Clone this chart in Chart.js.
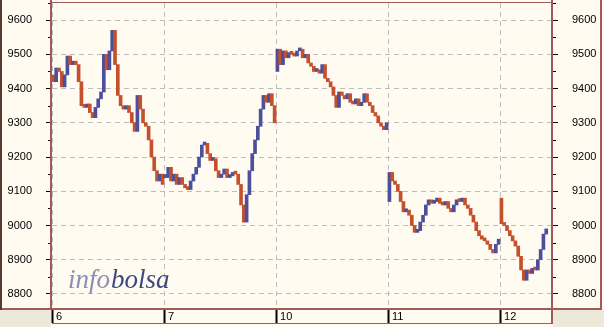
<!DOCTYPE html>
<html><head><meta charset="utf-8">
<script src="https://cdn.jsdelivr.net/npm/chart.js@4"></script>
<style>html,body{margin:0;padding:0;background:#FFFBF0;} canvas{display:block}</style>
</head><body>
<canvas id="c" width="604" height="327"></canvas>
<script>
// ---- data ----
const tickLabels = ['6', '7', '10', '11', '12'];
const yTicks = [8800, 8900, 9000, 9100, 9200, 9300, 9400, 9500, 9600];
const yMinorTicks = [8850, 8950, 9050, 9150, 9250, 9350, 9450, 9550, 9650];
const dayOpens = [9440, 9140, 9450, 9070, 9080];
const day6 = [9420, 9460, 9450, 9405, 9440, 9495, 9470, 9480, 9470, 9420,
              9350, 9345, 9355, 9330, 9315, 9345, 9370, 9390, 9500, 9455,
              9510, 9570, 9470, 9380, 9350, 9340, 9350, 9330, 9300, 9275,
              9380, 9340, 9300, 9290, 9250, 9200, 9160, 9130, 9150, 9120];
const day7 = [9140, 9170, 9130, 9150, 9120, 9140, 9120, 9110, 9105, 9130,
              9150, 9170, 9200, 9235, 9240, 9210, 9190, 9195, 9160, 9140,
              9150, 9165, 9140, 9145, 9155, 9150, 9120, 9060, 9010, 9090,
              9160, 9210, 9250, 9290, 9340, 9380, 9360, 9385, 9350, 9300];
const day10 = [9515, 9470, 9510, 9490, 9505, 9500, 9495, 9510, 9515, 9490,
               9500, 9475, 9465, 9450, 9455, 9445, 9470, 9430, 9420, 9405,
               9380, 9345, 9390, 9380, 9370, 9385, 9360, 9355, 9370, 9350,
               9360, 9385, 9360, 9350, 9330, 9320, 9300, 9290, 9280, 9300];
const day11 = [9155, 9130, 9120, 9100, 9070, 9040, 9045, 9030, 9000, 8980,
               8985, 9010, 9030, 9060, 9075, 9065, 9070, 9080, 9065, 9060,
               9070, 9050, 9040, 9060, 9075, 9070, 9080, 9060, 9050, 9030,
               9010, 8985, 8970, 8960, 8955, 8945, 8930, 8920, 8945, 8960];
const day12 = [9005, 9000, 8985, 8970, 8955, 8940, 8910, 8870, 8840, 8870,
               8860, 8875, 8870, 8900, 8930, 8975, 8990];
const days = [day6, day7, day10, day11, day12];
const samplesPerDay = 40;

// ---- styles ----
const CREAM = '#FFFBF0', GREY = '#ECE9D8', BROWN = '#A05A5A', DARK = '#5A3A30';
const UP = '#4B4F9C', DOWN = '#C4502C';
const FONT = {family: "'Liberation Sans', Arial, sans-serif", size: 11};

const bars = [], colors = [];
days.forEach((arr, d) => {
  let prev = dayOpens[d];
  arr.forEach((v, i) => {
    bars.push({x: d + (i + 0.5) / samplesPerDay, y: [prev, v]});
    colors.push(v >= prev ? UP : DOWN);
    prev = v;
  });
});

const frame = {
  id: 'frame',
  beforeDraw(chart) {
    const {ctx, chartArea: a, width, height} = chart;
    ctx.save();
    ctx.fillStyle = CREAM; ctx.fillRect(0, 0, width, height);
    ctx.fillStyle = GREY;
    ctx.fillRect(0, a.bottom + 2, a.left - 1, height);
    ctx.fillRect(a.right + 1, a.bottom + 2, width, height);
    ctx.restore();
  },
  beforeDatasetsDraw(chart) {
    const {ctx, chartArea: a} = chart;
    ctx.save();
    ctx.font = "italic 27px 'Liberation Serif', 'DejaVu Serif', serif";
    ctx.textBaseline = 'alphabetic';
    ctx.fillStyle = '#8A8FB5';
    const x0 = a.left + 16, yb = 288;
    ctx.fillText('info', x0, yb);
    const w = ctx.measureText('info').width;
    ctx.fillStyle = '#3C4A80';
    ctx.fillText('bolsa', x0 + w + 1, yb);
    ctx.restore();
  },
  afterDraw(chart) {
    const {ctx, chartArea: a} = chart;
    const ys = chart.scales.y;
    ctx.save();
    ctx.fillStyle = '#000';
    yMinorTicks.forEach(v => {
      const y = Math.round(ys.getPixelForValue(v));
      ctx.fillRect(a.left - 4, y, 3, 1);
      ctx.fillRect(a.right + 1, y, 3, 1);
    });
    ctx.fillStyle = BROWN;
    ctx.fillRect(a.left - 2, 0, 2, a.bottom + 2);
    ctx.fillRect(a.right - 1, 0, 2, 324);
    ctx.fillRect(a.left - 2, a.top - 1, a.right - a.left + 2, 1);
    ctx.fillRect(0, a.bottom, 602, 2);
    ctx.fillRect(a.left, 323, a.right - a.left, 1);
    ctx.fillRect(600, 0, 2, a.bottom + 2);
    ctx.fillStyle = DARK;
    ctx.fillRect(0, 0, 2, a.bottom + 2);
    ctx.restore();
  }
};

const yCommon = {
  type: 'linear', min: 8759, max: 9650, beginAtZero: false,
  afterBuildTicks: s => { s.ticks = yTicks.map(v => ({value: v})); },
  afterFit: s => { s.width = 52; s.paddingTop = 0; s.paddingBottom = 0; },
  border: {display: false, dash: [5, 4]},
  ticks: {padding: 14, font: FONT, color: '#000', callback: v => String(v)}
};

new Chart(document.getElementById('c'), {
  type: 'bar',
  data: {datasets: [{
    data: bars, backgroundColor: colors, borderWidth: 0, borderSkipped: false,
    barThickness: 3, minBarLength: 3, xAxisID: 'x', yAxisID: 'y'
  }]},
  options: {
    responsive: false, animation: false, devicePixelRatio: 1,
    layout: {autoPadding: false, padding: {top: 3, left: 0, right: 0, bottom: 0}},
    plugins: {legend: {display: false}, tooltip: {enabled: false}},
    scales: {
      x: {
        type: 'linear', position: 'bottom', min: 0, max: 4.464, offset: false,
        afterBuildTicks: s => { s.ticks = tickLabels.map((_, i) => ({value: i})); },
        afterFit: s => { s.height = 19; s.paddingLeft = 0; s.paddingRight = 0; },
        grid: {offset: false, color: '#BDBDBD', lineWidth: 1, tickLength: 15, tickWidth: 2, tickColor: '#000'},
        border: {display: false, dash: [5, 4]},
        ticks: {autoSkip: false, maxRotation: 0, minRotation: 0, align: 'start', labelOffset: 4, padding: -13,
                font: FONT, color: '#000', callback: (v, i) => tickLabels[i]}
      },
      y: Object.assign({}, yCommon, {position: 'left',
        grid: {color: '#BDBDBD', lineWidth: 1, tickLength: 6, tickWidth: 1, tickColor: '#000'}}),
      y2: Object.assign({}, yCommon, {position: 'right',
        grid: {drawOnChartArea: false, lineWidth: 1, tickLength: 6, tickWidth: 1, tickColor: '#000'}})
    }
  },
  plugins: [frame]
});
</script>
</body></html>
